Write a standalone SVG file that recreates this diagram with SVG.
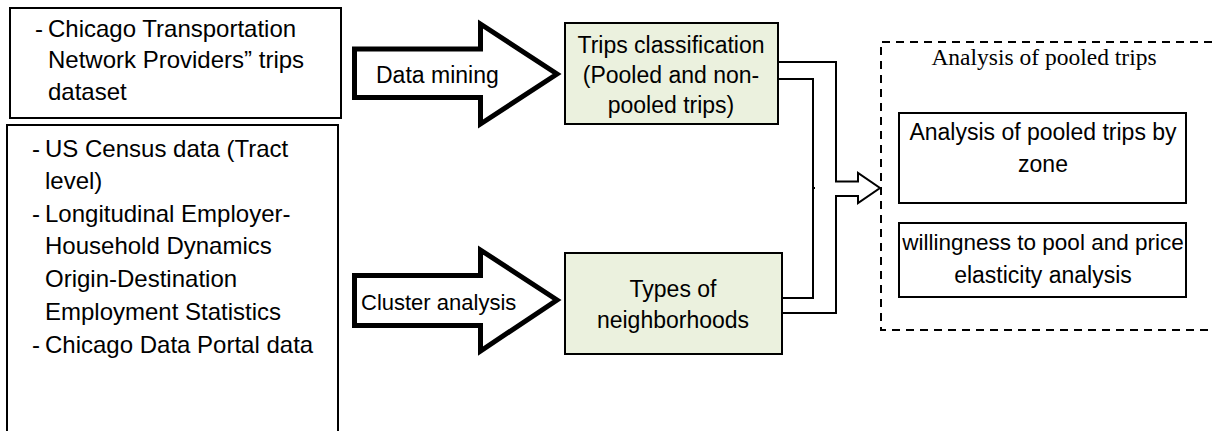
<svg xmlns="http://www.w3.org/2000/svg" width="1212" height="431" viewBox="0 0 1212 431">
<style>
.box{fill:#ffffff;stroke:#000;stroke-width:2}
.green{fill:#ebf1de;stroke:#000;stroke-width:2}
.big{fill:#ffffff;stroke:#000;stroke-width:5;stroke-linejoin:miter}
.conn{fill:none;stroke:#000;stroke-width:2}
.t{font-family:"Liberation Sans",Arial,sans-serif;font-size:23px;fill:#000}
.l{font-size:24px}
.m{text-anchor:middle}
.serif{font-family:"Liberation Serif","Times New Roman",serif;font-size:23.5px;fill:#000;text-anchor:middle}
</style>
<rect width="1212" height="431" fill="#fff"/>
<g id="src1">
<rect class="box" x="10" y="8" width="331" height="110"/>
<text class="t l" x="35" y="37">-</text>
<text class="t l" x="48" y="37">Chicago Transportation</text>
<text class="t l" x="48" y="68">Network Providers” trips</text>
<text class="t l" x="48" y="100">dataset</text>
</g>
<g id="src2">
<rect class="box" x="7" y="125" width="331" height="320"/>
<text class="t l" x="32" y="157">-</text>
<text class="t l" x="45" y="157">US Census data (Tract</text>
<text class="t l" x="45" y="189">level)</text>
<text class="t l" x="32" y="222">-</text>
<text class="t l" x="45" y="222">Longitudinal Employer-</text>
<text class="t l" x="45" y="254">Household Dynamics</text>
<text class="t l" x="45" y="287">Origin-Destination</text>
<text class="t l" x="45" y="320">Employment Statistics</text>
<text class="t l" x="32" y="353">-</text>
<text class="t l" x="45" y="353">Chicago Data Portal data</text>
</g>
<g id="arrow-mining">
<polygon class="big" points="354.5,49 480.5,49 480.5,24 557,74 480.5,124 480.5,97.5 354.5,97.5"/>
<text class="t" x="376" y="83">Data mining</text>
</g>
<g id="arrow-cluster">
<polygon class="big" points="354.5,275.5 480.5,275.5 480.5,250 557,300 480.5,351 480.5,325.5 354.5,325.5"/>
<text class="t" x="361" y="310" style="font-size:22px">Cluster analysis</text>
</g>
<g id="trips">
<rect class="green" x="565" y="23" width="213" height="101"/>
<text class="t m" x="671" y="53">Trips classification</text>
<text class="t m" x="671" y="83">(Pooled and non-</text>
<text class="t m" x="671" y="113">pooled trips)</text>
</g>
<g id="types">
<rect class="green" x="565" y="253" width="217" height="101"/>
<text class="t m" x="673" y="297">Types of</text>
<text class="t m" x="673" y="328">neighborhoods</text>
</g>
<g id="connectors">
<polyline class="conn" points="778,62 836,62 836,181.5 858,181.5 858,173 880,188 858,203 858,196 836,196 836,313 782,313"/>
<polyline class="conn" points="778,79 813,79 813,298 782,298"/>
<line class="conn" x1="813" y1="188" x2="815" y2="188"/>
</g>
<g id="analysis">
<path d="M1212,42 H881 V330 H1212" fill="none" stroke="#000" stroke-width="2" stroke-dasharray="8,6"/>
<text class="serif" x="1044" y="65">Analysis of pooled trips</text>
</g>
<g id="zone">
<rect class="box" x="899" y="113" width="287" height="90"/>
<text class="t m" x="1043" y="140">Analysis of pooled trips by</text>
<text class="t m" x="1043" y="172">zone</text>
</g>
<g id="willingness">
<rect class="box" x="899" y="223" width="287" height="74"/>
<text class="t m" x="1043" y="250" style="font-size:22.5px">willingness to pool and price</text>
<text class="t m" x="1043" y="283">elasticity analysis</text>
</g>
</svg>
